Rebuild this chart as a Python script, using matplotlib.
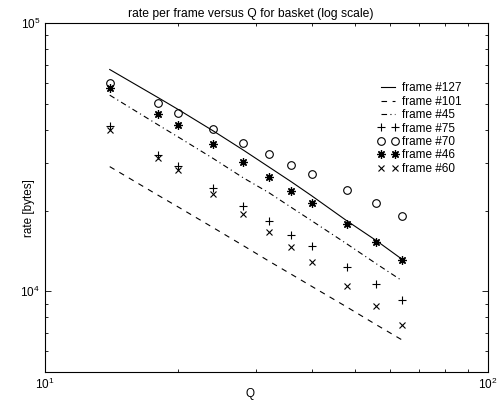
import matplotlib
matplotlib.use('Agg')
import matplotlib.pyplot as plt
from matplotlib.ticker import NullFormatter

plt.rcParams['font.family'] = ['Liberation Sans', 'DejaVu Sans']
plt.rcParams['mathtext.fontset'] = 'custom'
plt.rcParams['mathtext.rm'] = 'Liberation Sans'
plt.rcParams['mathtext.it'] = 'Liberation Sans:italic'

# quantiser values
q = [14, 18, 20, 24, 28, 32, 36, 40, 48, 56, 64]

# rate in bytes per frame
frame127 = [67100, 52720, 47570, 39570, 33640, 29080, 25570, 22690, 18310, 15430, 13150]
frame101 = [29150, 22800, 20600, 17240, 14810, 12960, 11560, 10430, 8735, 7494, 6580]
frame45 = [53850, 41730, 37560, 31220, 26500, 23320, 20520, 18310, 15020, 12650, 10940]
frame75 = [41300, 32230, 29330, 24230, 20830, 18310, 16210, 14700, 12320, 10680, 9260]
frame70 = [59840, 50160, 46290, 40160, 35710, 32500, 29510, 27320, 23880, 21320, 19110]
frame46 = [57030, 45770, 41660, 35310, 30350, 26770, 23740, 21420, 17850, 15210, 13120]
frame60 = [39920, 31410, 28350, 23080, 19450, 16630, 14580, 12860, 10500, 8795, 7474]

fig = plt.figure(figsize=(4.97, 4.04), dpi=100)
ax = fig.add_axes([0.0905, 0.0792, 0.8915, 0.8638])

ax.plot(q, frame127, '-', color='k', lw=0.8, label='frame #127')
ax.plot(q, frame101, '--', color='k', lw=0.8, dashes=(5, 5), label='frame #101')
ax.plot(q, frame45, '-.', color='k', lw=0.8, dashes=(5, 3, 1, 3), label='frame #45')
ax.plot(q, frame75, '+', color='k', ms=6, mew=0.8, ls='none', label='frame #75')
ax.plot(q, frame70, 'o', color='k', ms=5.5, mew=0.8, mfc='none', ls='none', label='frame #70')
ax.plot(q, frame46, marker=(8, 2, 0), color='k', ms=6, mew=0.9, ls='none', label='frame #46')
ax.plot(q, frame60, 'x', color='k', ms=5, mew=0.8, ls='none', label='frame #60')

ax.set_xscale('log')
ax.set_yscale('log')
ax.set_xlim(10, 100)
ax.set_ylim(5000, 100000)
ax.xaxis.set_minor_formatter(NullFormatter())
ax.yaxis.set_minor_formatter(NullFormatter())

ax.tick_params(which='both', direction='in', top=True, right=True, labelsize=8.5, width=0.6)
ax.tick_params(which='major', length=4)
ax.tick_params(which='minor', length=2.5)
for s in ax.spines.values():
    s.set_linewidth(0.8)

ax.set_title('rate per frame versus Q for basket (log scale)', fontsize=8.7, pad=4, x=0.465)
ax.set_xlabel('Q', fontsize=8.5)
ax.set_ylabel('rate [bytes]', fontsize=8.5)
ax.xaxis.set_label_coords(0.463, -0.045)
ax.yaxis.set_label_coords(-0.022, 0.47)

leg = ax.legend(loc='upper right', bbox_to_anchor=(0.94, 0.83), frameon=False,
                fontsize=8.5, numpoints=2, handlelength=1.75, handletextpad=0.3,
                labelspacing=0.12, borderaxespad=0, borderpad=0)

fig.savefig('out.png', dpi=100)
